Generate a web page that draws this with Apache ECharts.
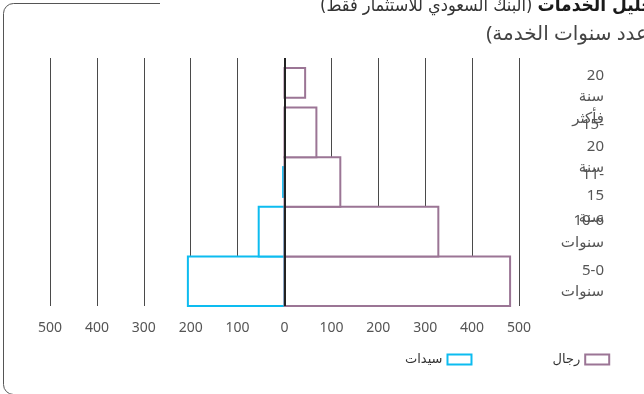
<!DOCTYPE html>
<html>
<head>
<meta charset="utf-8">
<script src="https://cdn.jsdelivr.net/npm/echarts@6/dist/echarts.min.js"></script>
<style>
  html, body { margin: 0; padding: 0; background: #fff; }
  #chart { width: 644px; height: 394px; }
</style>
</head>
<body>
<div id="chart"></div>
<script>
// categories bottom -> top (years of service)
const categoryLabels = ['5-0\nسنوات', '10-6\nسنوات', '11-\n15\nسنة', '15-\n20\nسنة', '20\nسنة\nفأكثر']
const menValues = [481, 328, 119, 68, 44]
const womenValues = [206, 55, 3, 0, 0]
const tickLabels = [-500, -400, -300, -200, -100, 0, 100, 200, 300, 400, 500]

const MEN = 'رجال'
const WOMEN = 'سيدات'
const menColor = '#9b7595'
const womenColor = '#0dbcf0'

// bars drawn at 60% band height (index into the arrays above)
const thinMen = [4]
const thinWomen = [2]

const arabicFont = '"DejaVu Sans Condensed", "DejaVu Sans", sans-serif'

const chart = echarts.init(document.getElementById('chart'))

const makeBars = (color, thin) => (params, api) => {
  const cat = api.value(1)
  const val = api.value(0)
  if (!val) return null
  const a = api.coord([0, cat])
  const b = api.coord([val, cat])
  const band = api.size([0, 1])[1]
  const h = thin.includes(cat) ? band * 0.6 : band
  return {
    type: 'rect',
    shape: {
      x: Math.min(a[0], b[0]),
      y: a[1] - h / 2,
      width: Math.abs(b[0] - a[0]),
      height: h,
    },
    style: { fill: '#fff', stroke: color, lineWidth: 2 },
  }
}

// right aligned lines; three-line labels sit a bit lower like the original
const yLabel = (v) => {
  const lines = v.split('\n').map((l) => '{a|' + l + '}')
  if (lines.length > 2) lines.unshift('{s| }')
  return lines.join('\n')
}

const option = {
  animation: false,
  textStyle: { fontFamily: '"Noto Sans", "DejaVu Sans", sans-serif' },
  graphic: [
    {
      type: 'rect',
      z: -1,
      shape: { x: 3.5, y: 3.5, width: 720, height: 391, r: 10 },
      style: { fill: 'none', stroke: '#555', lineWidth: 1 },
    },
    {
      type: 'rect',
      z: -1,
      shape: { x: 160, y: 0, width: 500, height: 8 },
      style: { fill: '#fff' },
    },
    {
      type: 'text',
      x: 660,
      y: 6,
      style: {
        text: '{r|(البنك السعودي للاستثمار فقط)} {b|تحليل الخدمات}',
        align: 'right',
        verticalAlign: 'middle',
        fontSize: 18,
        fontFamily: arabicFont,
        rich: {
          b: { fontSize: 19, fontWeight: 'bold', fill: '#1a1a1a', fontFamily: arabicFont },
          r: { fontSize: 18, fill: '#333', fontFamily: arabicFont },
        },
      },
    },
    {
      type: 'text',
      x: 654,
      y: 34,
      style: {
        text: '(عدد سنوات الخدمة)',
        align: 'right',
        verticalAlign: 'middle',
        fontSize: 20,
        fontFamily: '"Noto Sans", "DejaVu Sans", sans-serif',
        fill: '#444',
      },
    },
  ],
  legend: {
    left: 400,
    top: 348,
    align: 'right',
    itemGap: 80,
    itemWidth: 24,
    itemHeight: 10,
    icon: 'rect',
    textStyle: { fontSize: 13, color: '#333' },
    data: [
      { name: WOMEN, itemStyle: { color: '#fff', borderColor: womenColor, borderWidth: 2 } },
      { name: MEN, itemStyle: { color: '#fff', borderColor: menColor, borderWidth: 2 } },
    ],
  },
  grid: { left: 50, right: 125, top: 58, bottom: 88, outerBoundsMode: 'none' },
  xAxis: {
    type: 'value',
    min: tickLabels[0],
    max: tickLabels[tickLabels.length - 1],
    interval: 100,
    axisLine: { show: false },
    axisTick: { show: false },
    axisLabel: {
      margin: 15,
      fontSize: 14,
      color: '#555',
      formatter: (v) => String(Math.abs(v)),
    },
    splitLine: { show: true, lineStyle: { color: '#4a4a4a', width: 1 } },
  },
  yAxis: {
    type: 'category',
    position: 'right',
    data: categoryLabels,
    axisLine: { show: false },
    axisTick: { show: false },
    splitLine: { show: false },
    axisLabel: {
      interval: 0,
      hideOverlap: false,
      margin: 35,
      width: 50,
      align: 'left',
      formatter: yLabel,
      rich: {
        a: { align: 'right', fontSize: 15, lineHeight: 21.5, color: '#555' },
        s: { fontSize: 10, lineHeight: 28 },
      },
    },
  },
  series: [
    {
      name: WOMEN,
      type: 'custom',
      renderItem: makeBars(womenColor, thinWomen),
      itemStyle: { color: womenColor },
      encode: { x: 0, y: 1 },
      data: womenValues.map((v, i) => [-v, i]),
    },
    {
      name: MEN,
      type: 'custom',
      renderItem: makeBars(menColor, thinMen),
      itemStyle: { color: menColor },
      encode: { x: 0, y: 1 },
      data: menValues.map((v, i) => [v, i]),
      markLine: {
        silent: true,
        symbol: 'none',
        label: { show: false },
        lineStyle: { color: '#222', width: 2, type: 'solid' },
        data: [{ xAxis: 0 }],
      },
    },
  ],
}

chart.setOption(option)
</script>
</body>
</html>
